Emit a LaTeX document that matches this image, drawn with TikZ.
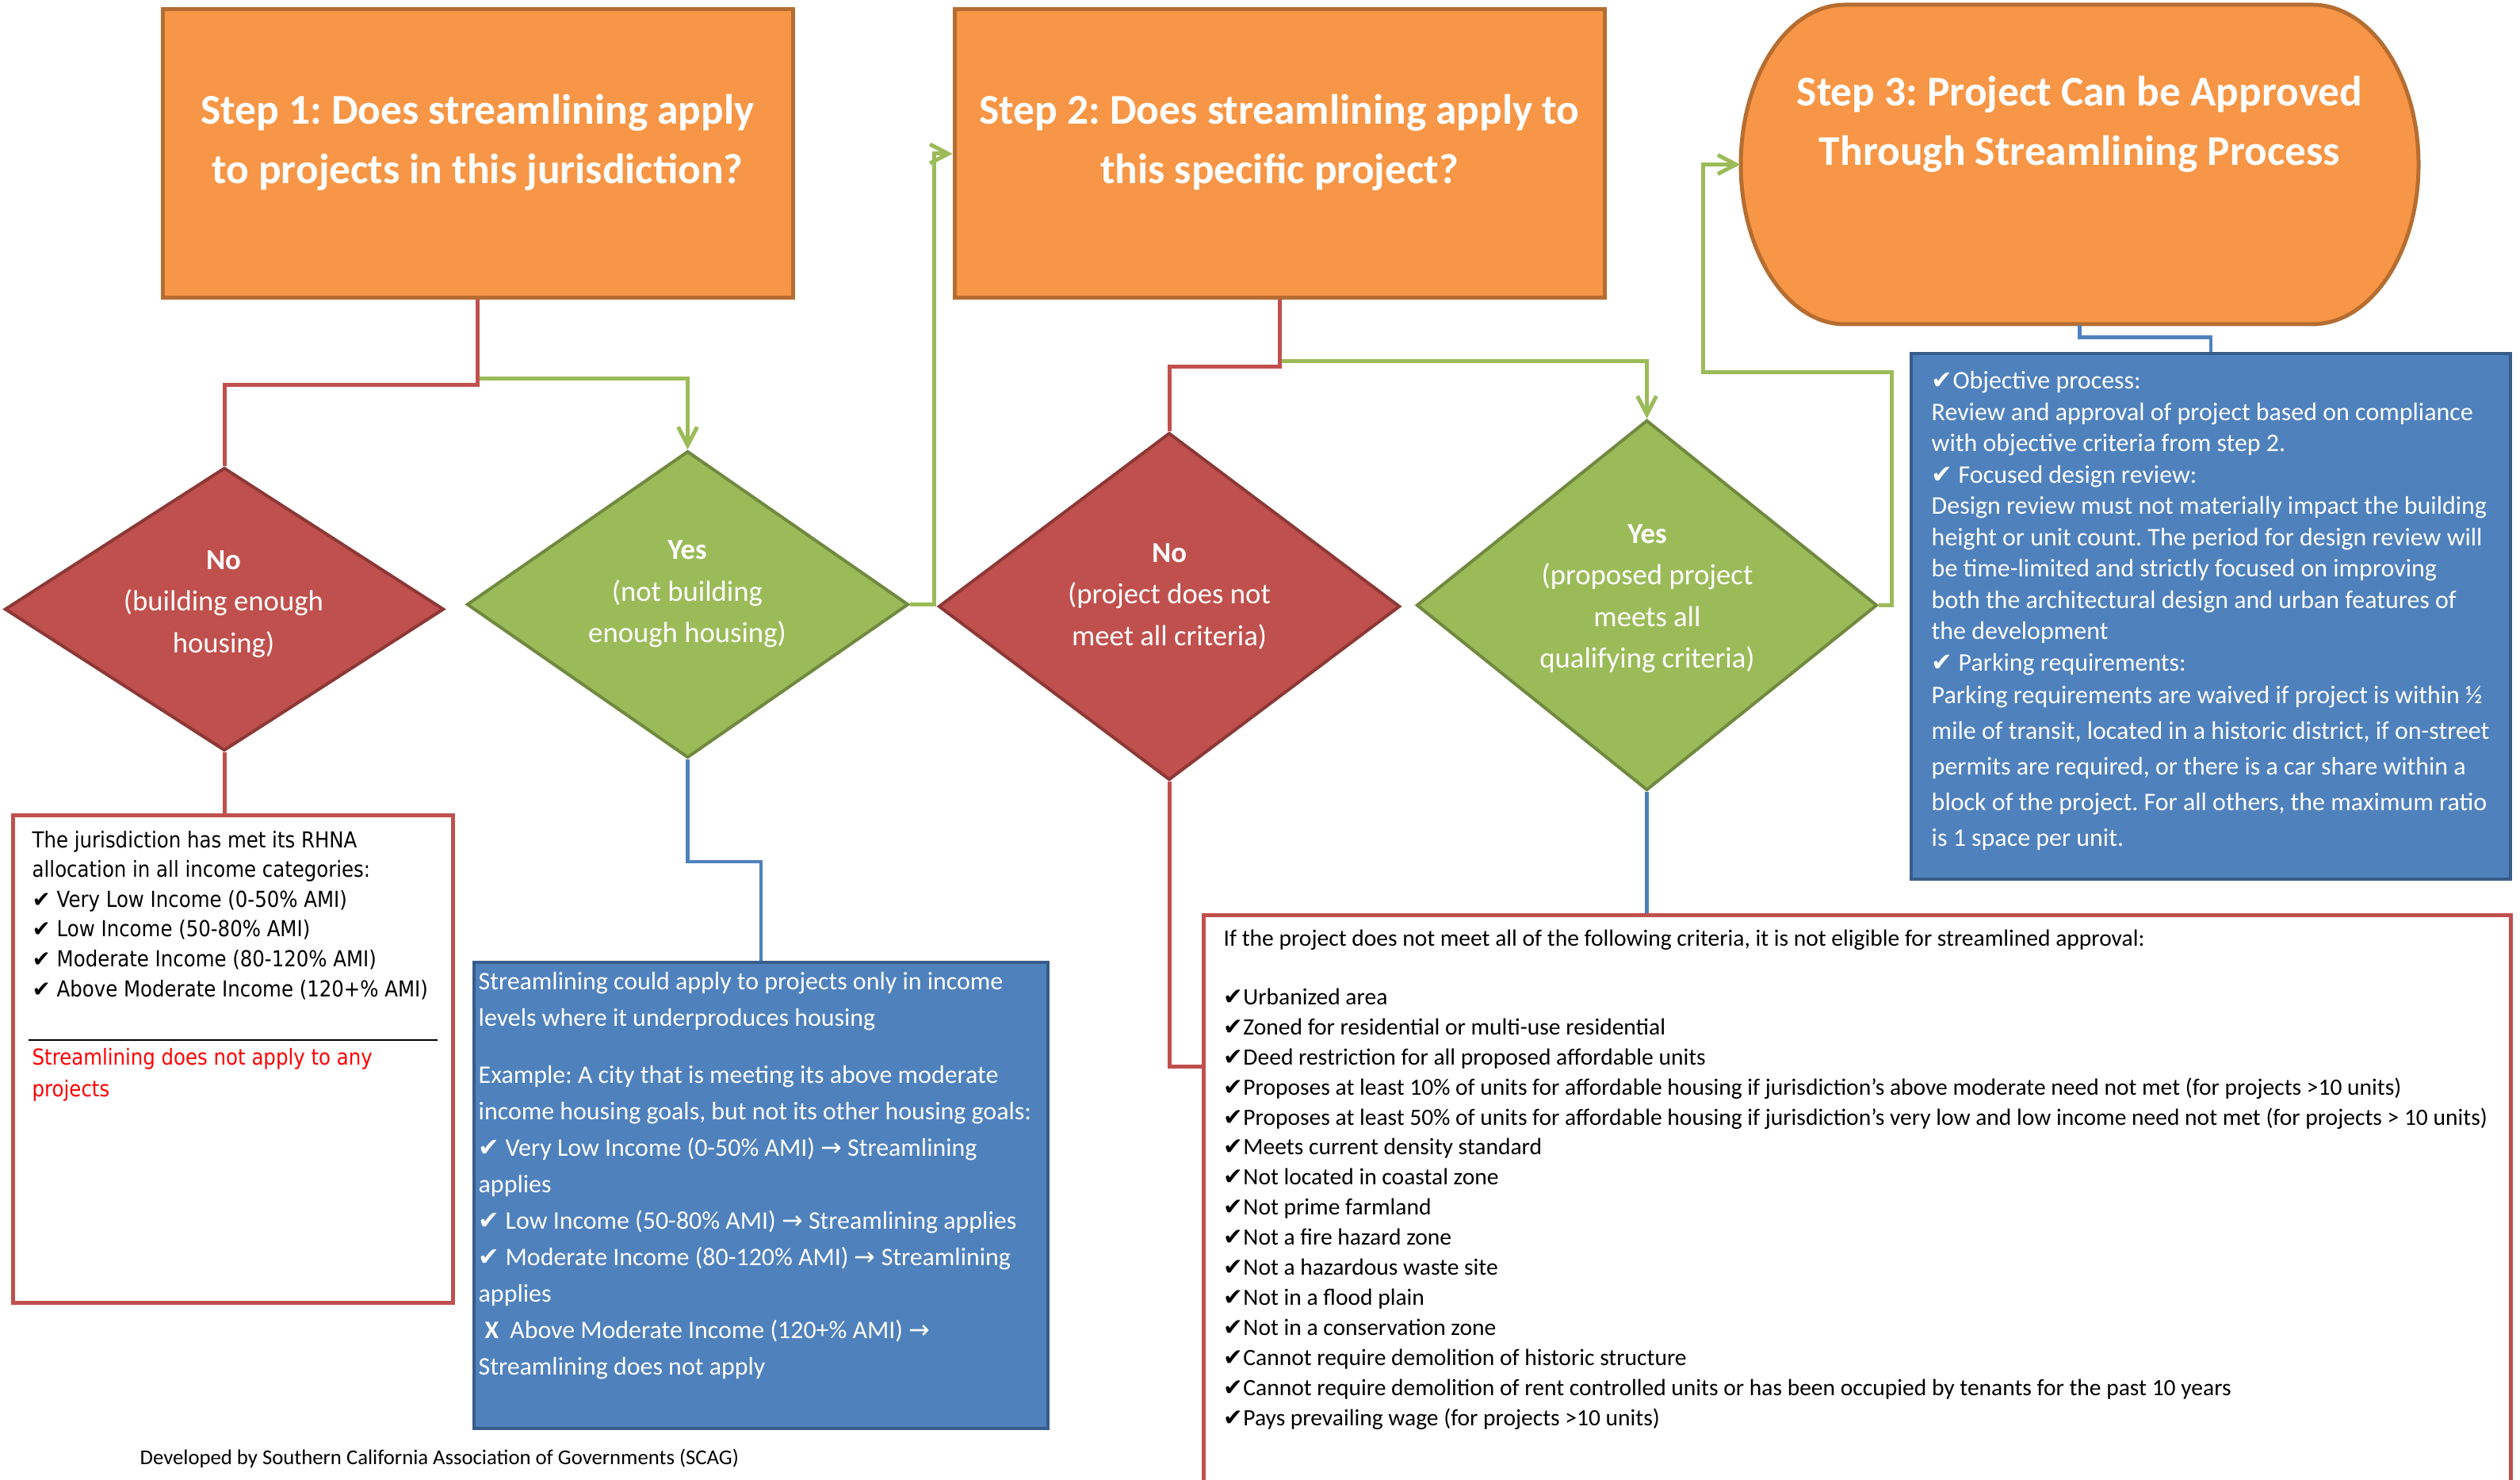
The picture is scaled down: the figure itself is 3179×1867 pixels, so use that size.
\documentclass[tikz,border=0pt]{standalone}
\usepackage{fontspec}
\setmainfont{Carlito}
\newfontfamily\chk{DejaVu Sans}
\newfontfamily\widefont[FakeStretch=0.88]{DejaVu Sans}
\usetikzlibrary{shapes.geometric,arrows.meta}
\definecolor{stepfill}{HTML}{F79646}
\definecolor{stepedge}{HTML}{B66D31}
\definecolor{redfill}{HTML}{C0504D}
\definecolor{rededge}{HTML}{8C3836}
\definecolor{greenfill}{HTML}{9BBB59}
\definecolor{greenedge}{HTML}{71893F}
\definecolor{bluefill}{HTML}{4F81BD}
\definecolor{blueedge}{HTML}{385D8A}
\definecolor{redtext}{HTML}{FF0000}
\tikzset{
  stepbox/.style={draw=stepedge, fill=stepfill, line width=0.5mm, inner sep=0},
  nodia/.style={diamond, draw=rededge, fill=redfill, line width=0.4mm, inner sep=0},
  yesdia/.style={diamond, draw=greenedge, fill=greenfill, line width=0.4mm, inner sep=0},
  bluebox/.style={draw=blueedge, fill=bluefill, line width=0.45mm, inner sep=0},
  redbox/.style={draw=redfill, fill=white, line width=0.5mm, inner sep=0},
  steptitle/.style={text=white, align=center, inner sep=0, font=\fontsize{15.2pt}{7.5mm}\selectfont\bfseries},
  dtext/.style={text=white, align=center, inner sep=0, font=\fontsize{10.45pt}{5.25mm}\selectfont},
  bodytext/.style={align=left, inner sep=0, anchor=base west},
  redline/.style={draw=redfill, line width=0.5mm},
  greenline/.style={draw=greenfill, line width=0.5mm, -{Straight Barb[length=2.3mm,width=2.4mm]}},
  blueline/.style={draw=bluefill, line width=0.45mm}
}
\begin{document}
\frenchspacing
\begin{tikzpicture}[x=0.1mm,y=-0.1mm]
\useasboundingbox (0,0) rectangle (3179,1867);
\clip (0,0) rectangle (3179,1867);
\fill[white] (0,0) rectangle (3179,1867);

% Step boxes
\node[stepbox, minimum width=79.5mm, minimum height=36.4mm] (s1) at (602.5,194) {};
\node[stepbox, minimum width=82mm, minimum height=36.4mm] (s2) at (1614,194) {};
\node[inner sep=0, minimum width=85.5mm, minimum height=40.3mm] (s3) at (2623.5,207.5) {};
\draw[stepbox] (2327,6) -- (2917,6) .. controls (2991,6) and (3051,96.5) .. (3051,207.5)
  .. controls (3051,318.5) and (2991,409) .. (2917,409) -- (2327,409)
  .. controls (2255,409) and (2196,318.5) .. (2196,207.5)
  .. controls (2196,96.5) and (2255,6) .. (2327,6) -- cycle;

% (base anchor of a multi-line node = baseline of its last line)
\node[steptitle, anchor=base] (t1) at (602.5,232) {Step 1: Does streamlining apply\\to projects in this jurisdiction?};
\node[steptitle, anchor=base] (t2) at (1614,232) {Step 2: Does streamlining apply to\\this specific project?};
\node[steptitle, anchor=base] (t3) at (2623.5,209) {Step 3: Project Can be Approved\\Through Streamlining Process};

% Diamonds
\node[nodia, minimum width=55.4mm, minimum height=35.7mm] (d1) at (283,768.5) {};
\node[yesdia, minimum width=55.7mm, minimum height=38.7mm] (d2) at (867.5,762.5) {};
\node[nodia, minimum width=58.2mm, minimum height=43.8mm] (d3) at (1475,765) {};
\node[yesdia, minimum width=58.1mm, minimum height=46.7mm] (d4) at (2077.5,763.5) {};

\node[dtext, anchor=base] (d1t) at (282,823) {\textbf{No}\\(building enough\\housing)};
\node[dtext, anchor=base] (d2t) at (867,811) {\textbf{Yes}\\(not building\\enough housing)};
\node[dtext, anchor=base] (d3t) at (1475,814) {\textbf{No}\\(project does not\\meet all criteria)};
\node[dtext, anchor=base] (d4t) at (2078,842.5) {\textbf{Yes}\\(proposed project\\meets all\\qualifying criteria)};

% Result boxes
\node[redbox, minimum width=55.5mm, minimum height=61.5mm] (r1) at (293.5,1335.5) {};
\node[bluebox, minimum width=72.4mm, minimum height=58.8mm] (b1) at (960,1508) {};
\node[bluebox, minimum width=75.6mm, minimum height=66.3mm] (b3) at (2789,777.5) {};
\node[redbox, minimum width=164.9mm, minimum height=74.6mm] (r2) at (2342.5,1527) {};

% Red box 1 text
\node[bodytext, font=\widefont\fontsize{7.9pt}{3.76mm}\selectfont] (r1t) at (40,1257)
 {The jurisdiction has met its RHNA\\allocation in all income categories:\\
  {\chk ✔} Very Low Income (0-50\% AMI)\\
  {\chk ✔} Low Income (50-80\% AMI)\\
  {\chk ✔} Moderate Income (80-120\% AMI)\\
  {\chk ✔} Above Moderate Income (120+\% AMI)};
\draw[line width=0.2mm] (36,1312) -- (552,1312);
\node[bodytext, text=redtext, font=\widefont\fontsize{7.9pt}{4mm}\selectfont] (r1r) at (40,1383)
 {Streamlining does not apply to any\\projects};

% Blue box 1 text
\node[bodytext, text=white, font=\fontsize{9.08pt}{4.6mm}\selectfont] (b1t) at (603,1734)
 {Streamlining could apply to projects only in income\\
  levels where it underproduces housing\\[2.6mm]
  Example: A city that is meeting its above moderate\\
  income housing goals, but not its other housing goals:\\
  {\chk ✔} Very Low Income (0-50\% AMI) {\chk →} Streamlining\\
  applies\\
  {\chk ✔} Low Income (50-80\% AMI) {\chk →} Streamlining applies\\
  {\chk ✔} Moderate Income (80-120\% AMI) {\chk →} Streamlining\\
  applies\\
  \hspace*{0.8mm}\textbf{X}\hspace{1.4mm}Above Moderate Income (120+\% AMI) {\chk →}\\
  Streamlining does not apply};

% Blue box 3 text
\node[bodytext, text=white, font=\fontsize{9.09pt}{3.95mm}\selectfont] (b3t) at (2436,846)
 {{\chk ✔}Objective process:\\
  Review and approval of project based on compliance\\
  with objective criteria from step 2.\\
  {\chk ✔} Focused design review:\\
  Design review must not materially impact the building\\
  height or unit count. The period for design review will\\
  be time-limited and strictly focused on improving\\
  both the architectural design and urban features of\\
  the development\\
  {\chk ✔} Parking requirements:};
\node[bodytext, text=white, font=\fontsize{9.09pt}{4.5mm}\selectfont] (b3u) at (2436,1067)
 {Parking requirements are waived if project is within ½\\
  mile of transit, located in a historic district, if on-street\\
  permits are required, or there is a car share within a\\
  block of the project. For all others, the maximum ratio\\
  is 1 space per unit.};

% Red box 2 text
\node[bodytext, font=\fontsize{8.4pt}{3.79mm}\selectfont] (r2h) at (1543,1193)
 {If the project does not meet all of the following criteria, it is not eligible for streamlined approval:};
\node[bodytext, font=\fontsize{8.4pt}{3.79mm}\selectfont] (r2t) at (1543,1798)
 {{\chk ✔}Urbanized area\\
  {\chk ✔}Zoned for residential or multi-use residential\\
  {\chk ✔}Deed restriction for all proposed affordable units\\
  {\chk ✔}Proposes at least 10\% of units for affordable housing if jurisdiction’s above moderate need not met (for projects >10 units)\\
  {\chk ✔}Proposes at least 50\% of units for affordable housing if jurisdiction’s very low and low income need not met (for projects > 10 units)\\
  {\chk ✔}Meets current density standard\\
  {\chk ✔}Not located in coastal zone\\
  {\chk ✔}Not prime farmland\\
  {\chk ✔}Not a fire hazard zone\\
  {\chk ✔}Not a hazardous waste site\\
  {\chk ✔}Not in a flood plain\\
  {\chk ✔}Not in a conservation zone\\
  {\chk ✔}Cannot require demolition of historic structure\\
  {\chk ✔}Cannot require demolition of rent controlled units or has been occupied by tenants for the past 10 years\\
  {\chk ✔}Pays prevailing wage (for projects >10 units)};

% Footer
\node[bodytext, font=\fontsize{7.6pt}{3.8mm}\selectfont] (foot) at (176,1847)
 {Developed by Southern California Association of Governments (SCAG)};

% Connectors
\draw[greenline] (s1.south) -- ++(0,99) -| (d2.north);
\draw[redline] (s1.south) -- ++(0,107) -| (d1.north);
\draw[greenline] (d2.east) -- ++(30,0) |- (s2.west);
\draw[greenline] (s2.south) -- ++(0,77) -| (d4.north);
\draw[redline] (s2.south) -- ++(0,84) -| (d3.north);
\draw[greenline] (d4.east) -- ++(16,0) -- ++(0,-294) -| ([xshift=-4.7mm]s3.west) -- (s3.west);
\draw[blueline] (s3.south) -- ++(0,16) -| (b3.north);
\draw[redline] (d1.south) -- (d1.south |- r1.north);
\draw[blueline] (d2.south) -- ++(0,129) -| (b1.north);
\draw[redline] (d3.south) |- ([yshift=-19.4mm]r2.north west);
\draw[blueline] (d4.south) -- (d4.south |- r2.north);
\end{tikzpicture}
\end{document}
